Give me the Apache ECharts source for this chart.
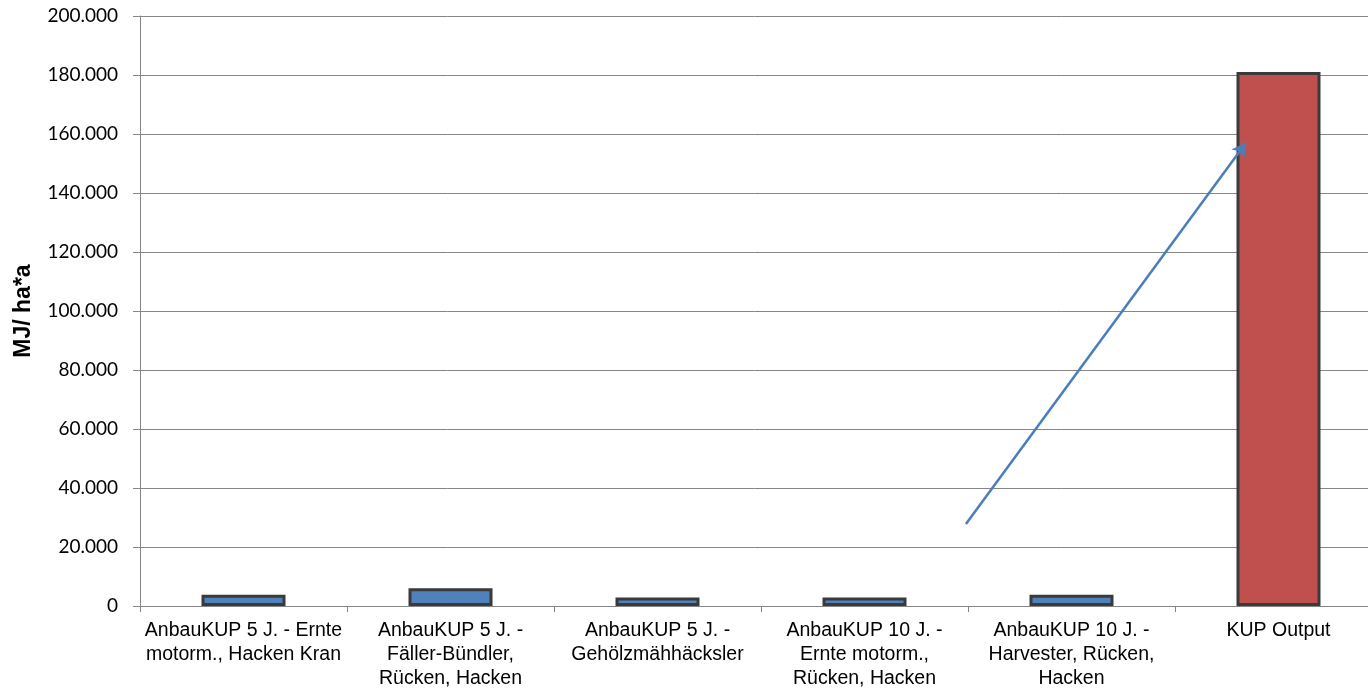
<!DOCTYPE html>
<html>
<head>
<meta charset="utf-8">
<script src="https://cdn.jsdelivr.net/npm/echarts@6/dist/echarts.min.js"></script>
<style>
  html, body { margin: 0; padding: 0; background: #fff; }
  #chart { width: 1368px; height: 688px; }
</style>
</head>
<body>
<div id="chart"></div>
<script>
// Energy input per production chain vs. energy output of short rotation coppice (KUP)
const categories = [
  'AnbauKUP 5 J. - Ernte\nmotorm., Hacken Kran',
  'AnbauKUP 5 J. -\nFäller-Bündler,\nRücken, Hacken',
  'AnbauKUP 5 J. -\nGehölzmähhäcksler',
  'AnbauKUP 10 J. -\nErnte motorm.,\nRücken, Hacken',
  'AnbauKUP 10 J. -\nHarvester, Rücken,\nHacken',
  'KUP Output'
];
const values = [3800, 6000, 2900, 2900, 3800, 181000];
const barColors = ['#4F81BD', '#4F81BD', '#4F81BD', '#4F81BD', '#4F81BD', '#C0504D'];
const yTicks = [0, 20000, 40000, 60000, 80000, 100000, 120000, 140000, 160000, 180000, 200000];

// Annotation arrow, in data units: x along the category span (0..6), y in MJ/ha*a
const arrowFrom = [3.99, 27800];
const arrowTo = [5.343, 157000];

const fmt = v => String(v).replace(/\B(?=(\d{3})+(?!\d))/g, '.');

const chart = echarts.init(document.getElementById('chart'), null, { renderer: 'canvas' });
chart.setOption({
  animation: false,
  backgroundColor: '#ffffff',
  grid: { left: 140, right: -14, top: 16, bottom: 82, containLabel: false, outerBoundsMode: 'none' },
  xAxis: [
    {
      type: 'category',
      data: categories,
      axisLine: { show: true, lineStyle: { color: '#868686', width: 1 } },
      axisTick: { show: true, length: 6, lineStyle: { color: '#868686' } },
      axisLabel: {
        interval: 0,
        margin: 13,
        fontFamily: '"Liberation Sans", Arial, sans-serif',
        fontSize: 19.5,
        lineHeight: 24,
        color: '#000'
      }
    },
    {
      type: 'value',
      min: 0, max: 6,
      show: false
    }
  ],
  yAxis: {
    type: 'value',
    min: 0, max: 200000, interval: 20000,
    name: 'MJ/ ha*a',
    nameLocation: 'middle',
    nameGap: 105,
    nameRotate: 90,
    nameTextStyle: { fontFamily: '"Liberation Sans", Arial, sans-serif', fontWeight: 'bold', fontSize: 23, color: '#000', padding: [0, 0, 0, 0] },
    axisLine: { show: true, lineStyle: { color: '#868686', width: 1 } },
    axisTick: { show: true, inside: false, length: 7, lineStyle: { color: '#868686' } },
    splitLine: { show: true, lineStyle: { color: '#868686', width: 1 } },
    axisLabel: {
      margin: 22,
      fontFamily: 'Lato, "Open Sans", sans-serif',
      fontSize: 19,
      color: '#000',
      formatter: v => yTicks.includes(v) ? fmt(v) : ''
    }
  },
  series: [
    {
      type: 'bar',
      xAxisIndex: 0,
      barWidth: 84,
      data: values.map((v, i) => ({
        value: v,
        itemStyle: { color: barColors[i], borderColor: '#3a3a3a', borderWidth: 3 }
      }))
    },
    {
      type: 'line',
      xAxisIndex: 1,
      data: [arrowFrom, arrowTo],
      showSymbol: false,
      lineStyle: { opacity: 0 },
      silent: true,
      markLine: {
        silent: true,
        symbol: ['none', 'arrow'],
        symbolSize: [12, 14],
        label: { show: false },
        lineStyle: { color: '#4A7EBB', width: 2.5, type: 'solid' },
        data: [[{ coord: arrowFrom }, { coord: arrowTo }]]
      }
    }
  ]
});
</script>
</body>
</html>
